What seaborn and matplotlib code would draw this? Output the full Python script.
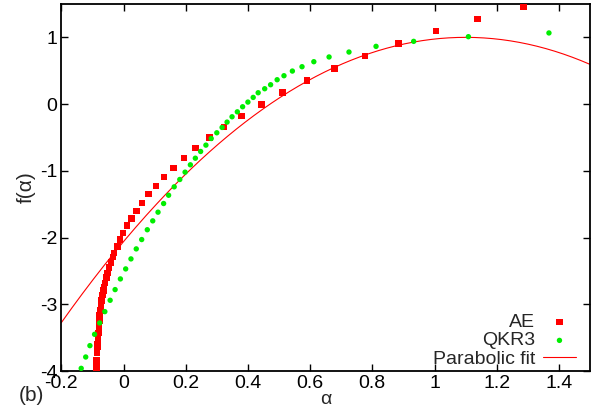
import numpy as np
import pandas as pd
import matplotlib
matplotlib.use("Agg")
import matplotlib.pyplot as plt
import seaborn as sns

# ---- data ----
ae_alpha = [1.286, 1.139, 1.005, 0.885, 0.776, 0.678, 0.590, 0.512, 0.444, 0.380,
            0.323, 0.276, 0.232, 0.194, 0.160, 0.130, 0.104, 0.080, 0.059, 0.042,
            0.025, 0.012, -0.001, -0.011, -0.020, -0.030, -0.034, -0.040, -0.047, -0.051,
            -0.055, -0.059, -0.062, -0.065, -0.067, -0.070, -0.072, -0.0746, -0.0765, -0.078,
            -0.0795, -0.081, -0.082, -0.083, -0.084, -0.085, -0.086, -0.0868, -0.0875, -0.088]
ae_f = [1.456, 1.276, 1.096, 0.910, 0.720, 0.535, 0.354, 0.170, -0.003, -0.176,
        -0.345, -0.500, -0.656, -0.810, -0.956, -1.092, -1.227, -1.351, -1.482, -1.602,
        -1.712, -1.823, -1.932, -2.033, -2.132, -2.228, -2.288, -2.372, -2.447, -2.530,
        -2.600, -2.680, -2.740, -2.790, -2.860, -2.940, -3.010, -3.090, -3.160, -3.240,
        -3.330, -3.430, -3.530, -3.600, -3.640, -3.730, -3.840, -3.910, -3.960, -3.990]

qkr_alpha = [1.368, 1.109, 0.933, 0.812, 0.725, 0.661, 0.612, 0.574, 0.543, 0.516,
             0.494, 0.473, 0.454, 0.433, 0.417, 0.400, 0.383, 0.366, 0.349, 0.333,
             0.317, 0.300, 0.282, 0.265, 0.248, 0.231, 0.215, 0.198, 0.181, 0.163,
             0.145, 0.129, 0.111, 0.094, 0.0765, 0.0585, 0.041, 0.024, 0.007, -0.010,
             -0.027, -0.043, -0.060, -0.0765, -0.093, -0.108, -0.1215, -0.136]
qkr_f = [1.066, 1.010, 0.940, 0.865, 0.780, 0.706, 0.635, 0.560, 0.495, 0.425,
         0.365, 0.290, 0.230, 0.170, 0.100, 0.030, -0.040, -0.116, -0.190, -0.270,
         -0.350, -0.430, -0.516, -0.615, -0.710, -0.811, -0.910, -1.020, -1.130, -1.240,
         -1.366, -1.490, -1.620, -1.750, -1.883, -2.030, -2.170, -2.320, -2.470, -2.620,
         -2.780, -2.940, -3.110, -3.280, -3.450, -3.620, -3.790, -3.960]

# parabolic fit f = f0 - c*(alpha - a0)^2
fit_a0 = 1.10
fit_f0 = 1.00
fit_c = 2.53

x_ticks = [-0.2, 0, 0.2, 0.4, 0.6, 0.8, 1, 1.2, 1.4]
x_tick_labels = ["-0.2", "0", "0.2", "0.4", "0.6", "0.8", "1", "1.2", "1.4"]
y_ticks = [-4, -3, -2, -1, 0, 1]
y_tick_labels = ["-4", "-3", "-2", "-1", "0", "1"]

# ---- plotting ----
sns.set_theme(style="ticks")
plt.rcParams["font.family"] = ["Liberation Sans", "DejaVu Sans"]

fig = plt.figure(figsize=(6.01, 4.11), dpi=100)
ax = fig.add_axes([0.102, 0.0973, 0.8797, 0.8930])

ae = pd.DataFrame({"alpha": ae_alpha, "f": ae_f})
qk = pd.DataFrame({"alpha": qkr_alpha, "f": qkr_f})
xs = np.linspace(-0.2, 1.5, 300)
fit = pd.DataFrame({"alpha": xs, "f": fit_f0 - fit_c * (xs - fit_a0) ** 2})

sns.scatterplot(data=ae, x="alpha", y="f", ax=ax, marker="s", s=22,
                color="#ff0000", edgecolor="none", linewidth=0, label="AE", zorder=3)
sns.scatterplot(data=qk, x="alpha", y="f", ax=ax, marker="o", s=15,
                color="#00ee00", edgecolor="none", linewidth=0, label="QKR3", zorder=3)
sns.lineplot(data=fit, x="alpha", y="f", ax=ax, color="#ff0000", linewidth=0.8,
             label="Parabolic fit", zorder=2)

ax.set_xlim(-0.2, 1.5)
ax.set_ylim(-4, 1.5)
ax.set_xticks(x_ticks)
ax.set_xticklabels(x_tick_labels)
ax.set_yticks(y_ticks)
ax.set_yticklabels(y_tick_labels)
ax.tick_params(direction="in", length=5, width=1.0, top=True, right=True,
               labelsize=14, colors="black", pad=3)
for sp in ax.spines.values():
    sp.set_visible(True)
    sp.set_linewidth(1.3)
    sp.set_color("black")

ax.set_xlabel("α", fontsize=14, labelpad=-1)
ax.set_ylabel("f(α)", fontsize=15, labelpad=3)
ax.grid(False)

leg = ax.legend(loc="lower right", bbox_to_anchor=(0.9735, 0.008),
                markerfirst=False, frameon=False, fontsize=14,
                handlelength=1.7, handletextpad=0.4, labelspacing=0.05,
                borderaxespad=0.0, borderpad=0.0, markerscale=1.0)

fig.text(0.052, 0.038, "(b)", fontsize=15, ha="center", va="center")

fig.savefig("out.png", dpi=100)
